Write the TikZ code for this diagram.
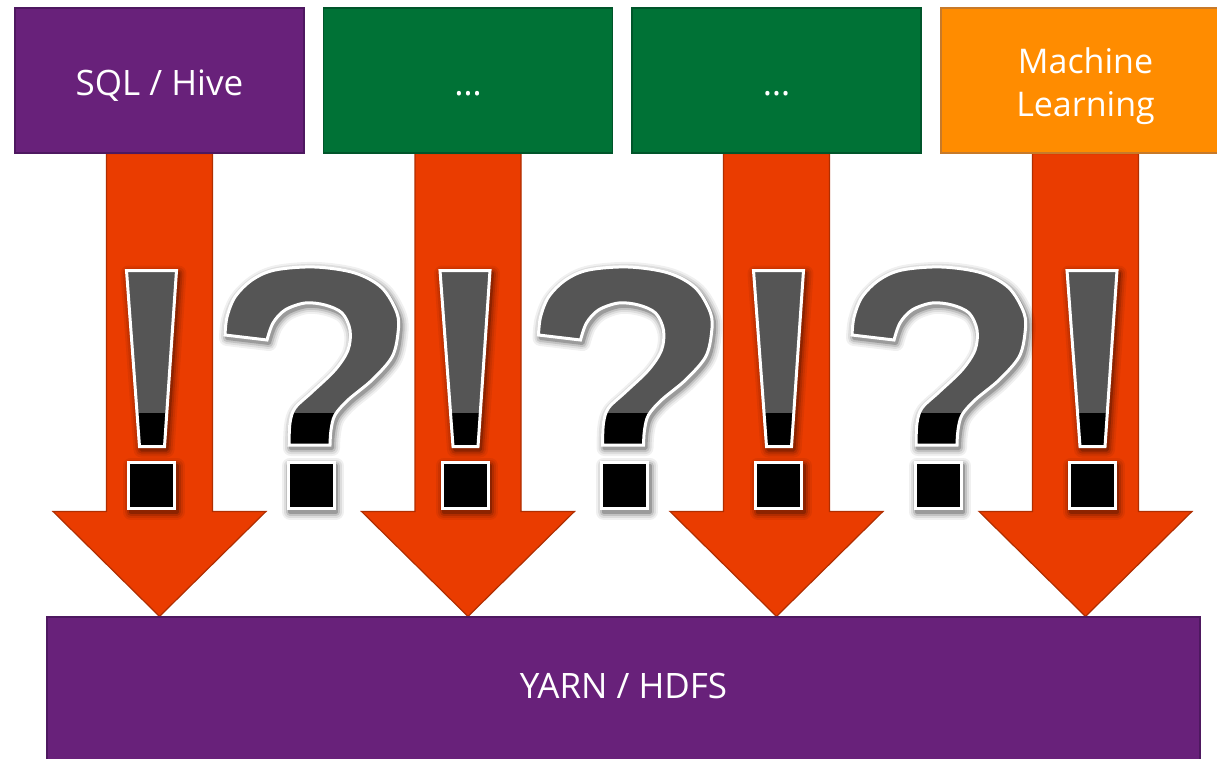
\documentclass[tikz,border=0pt]{standalone}
\usepackage{fontspec}
\setmainfont{Open Sans}
\usetikzlibrary{calc}
\definecolor{mspurple}{HTML}{68217A}
\definecolor{purpleedge}{HTML}{4E1860}
\definecolor{msgreen}{HTML}{007236}
\definecolor{greenedge}{HTML}{00552A}
\definecolor{msorange}{HTML}{FF8C00}
\definecolor{orangeedge}{HTML}{C77A2A}
\definecolor{arrowfill}{HTML}{EA3C00}
\definecolor{arrowedge}{HTML}{B02E00}
\definecolor{glyphgray}{HTML}{555555}
\pgfdeclarelayer{bg}
\pgfsetlayers{bg,main}
\def\qmark{plot[smooth,tension=0.55] coordinates {(-86,335) (-84,317) (-76,297) (-59,280) (-36,270) (4,267) (44,273) (71,288) (86,313) (87,333) (81,357) (61,380) (37,400) (24,415) (20,430) (19,445)} -- plot[smooth,tension=0.55] coordinates {(-22,445) (-21,423) (-16,408) (1,392) (24,370) (37,350) (39,330) (31,313) (14,305) (-6,303) (-26,310) (-38,323) (-44,340)} -- cycle}
\def\emark{(-25,270.5) -- (25,270.5) -- (13,446.5) -- (-12,446.5) -- cycle}
\def\gdot{(-23,462.5) rectangle (23,508.5)}
\newcommand\drawglyph[2]{%
  \foreach \w/\o in {16/0.06,12/0.08,8/0.12,4/0.2}{\draw[black,opacity=\o,line width=\w pt,line join=round,shift={(#1+2,3)}] #2;}
  \fill[glyphgray,shift={(#1,0)}] #2;
  \begin{scope}\clip[shift={(#1,0)}] #2; \fill[black] (#1-120,413) rectangle (#1+120,520);\end{scope}
  \draw[white,line width=3pt,shift={(#1,0)}] #2;
}
\begin{document}
\begin{tikzpicture}[x=1pt,y=-1pt,
  topbox/.style={rectangle,inner sep=0pt,minimum width=289pt,minimum height=145pt,
    text=white,line width=1.2pt,font=\fontsize{35}{43}\selectfont,align=center,
    text height=33pt,text depth=4pt},
  basebox/.style={rectangle,inner sep=0pt,minimum width=1153pt,minimum height=146pt,
    text=white,line width=1.2pt,fill=mspurple,draw=purpleedge,font=\fontsize{35}{42}\selectfont,
    text height=24pt,text depth=8pt},
  blockarrow/.style={fill=arrowfill,draw=arrowedge,line width=1.2pt}]
\useasboundingbox (0,0) rectangle (1217,758);
\node[topbox,fill=mspurple,draw=purpleedge] (sql) at (159.5,80.5) {SQL / Hive};
\node[topbox,fill=msgreen,draw=greenedge] (d1) at (468,80.5) {…};
\node[topbox,fill=msgreen,draw=greenedge] (d2) at (776.5,80.5) {…};
\node[topbox,fill=msorange,draw=orangeedge,font=\fontsize{34}{43}\selectfont,
  text height=75pt,text depth=4pt] (ml) at (1085.5,80.5) {Machine\\Learning};
\node[basebox] (yarn) at (623.5,690) {YARN / HDFS};
\begin{pgfonlayer}{bg}
\fill[white] (0,0) rectangle (1217,758);
\foreach \b in {sql,d1,d2,ml}{
  \draw[blockarrow] let \p1=(\b.south), \p2=(yarn.north) in
    (\x1-53pt,\y1) -- (\x1+53pt,\y1) -- (\x1+53pt,\y2+105pt) -- (\x1+106.5pt,\y2+105pt)
    -- (\x1,\y2) -- (\x1-106.5pt,\y2+105pt) -- (\x1-53pt,\y2+105pt) -- cycle;
}
\end{pgfonlayer}
\foreach \c in {151.5,465,778.5,1092}{\drawglyph{\c}{\emark}\drawglyph{\c}{\gdot}}
\foreach \c in {311,624.5,938}{\drawglyph{\c}{\qmark}\drawglyph{\c}{\gdot}}
\end{tikzpicture}
\end{document}
